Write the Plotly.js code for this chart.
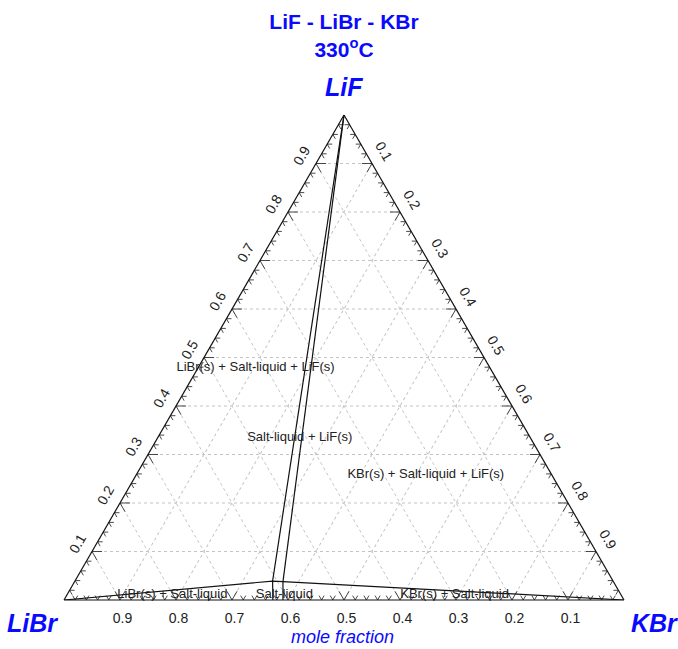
<!DOCTYPE html>
<html>
<head>
<meta charset="utf-8">
<script src="https://cdn.plot.ly/plotly-3.0.1.min.js"></script>
<style>
html,body{margin:0;padding:0;background:#ffffff;}
#chart{width:678px;height:649px;}
</style>
</head>
<body>
<div id="chart"></div>
<script>
// ---- components (a = LiF, b = LiBr, c = KBr) ----
const componentA = 'LiF';
const componentB = 'LiBr';
const componentC = 'KBr';
const titleLine1 = 'LiF - LiBr - KBr';
const titleLine2 = '330<sup>o</sup>C';
const axisNote = 'mole fraction';

// axis tick values / labels
const tickValues = [0.1, 0.2, 0.3, 0.4, 0.5, 0.6, 0.7, 0.8, 0.9];
const tickLabels = ['0.1', '0.2', '0.3', '0.4', '0.5', '0.6', '0.7', '0.8', '0.9'];
const minorStep = 0.02;

// ---- phase boundaries (mole fractions) ----
// tie line LiF -> liquid corner L1
const tieLeftA = [1.000, 0.039];
const tieLeftB = [0.000, 0.608];
const tieLeftC = [0.000, 0.353];
// tie line LiF -> liquid corner L2
const tieRightA = [1.000, 0.038];
const tieRightB = [0.000, 0.590];
const tieRightC = [0.000, 0.372];
// LiBr -> L1 -> L2 -> KBr boundary (three-phase triangle edges + LiF liquidus)
const domeA = [0.000, 0.039, 0.038, 0.000];
const domeB = [1.000, 0.608, 0.590, 0.000];
const domeC = [0.000, 0.353, 0.372, 1.000];
// liquid region borders down to the LiBr-KBr binary edge
const liqLeftA = [0.039, 0.000];
const liqLeftB = [0.608, 0.627];
const liqLeftC = [0.353, 0.373];
const liqRightA = [0.038, 0.000];
const liqRightB = [0.590, 0.609];
const liqRightC = [0.372, 0.391];

// ---- phase-region labels ----
const regionLabels = [
  'LiBr(s) + Salt-liquid + LiF(s)',
  'Salt-liquid + LiF(s)',
  'KBr(s) + Salt-liquid + LiF(s)',
  'LiBr(s) + Salt-liquid',
  'Salt-liquid',
  'KBr(s) + Salt-liquid'
];
const regionA = [0.478, 0.334, 0.258, 0.011, 0.011, 0.011];
const regionB = [0.419, 0.412, 0.225, 0.801, 0.601, 0.297];
const regionC = [0.103, 0.254, 0.517, 0.188, 0.388, 0.692];

// ---- edge tick marks (small "v" marks along each edge) ----
function buildTicks() {
  const A = [], B = [], C = [];
  const n = Math.round(1 / minorStep);
  for (let i = 1; i < n; i++) {
    const v = i * minorStep;
    const major = (i % 5 === 0);
    const d = major ? 0.018 : 0.009;
    // left edge (c = 0)
    A.push(v, v, v - d, null);
    B.push(1 - v - d, 1 - v, 1 - v, null);
    C.push(d, 0, d, null);
    // bottom edge (a = 0)
    A.push(d, 0, d, null);
    B.push(v, v, v - d, null);
    C.push(1 - v - d, 1 - v, 1 - v, null);
    // right edge (b = 0)
    A.push(v, v, v - d, null);
    B.push(d, 0, d, null);
    C.push(1 - v - d, 1 - v, 1 - v, null);
  }
  return {A, B, C};
}
const ticks = buildTicks();

const FONT = 'Liberation Sans, Arial, Helvetica, sans-serif';
const BLUE = '#0a0aff';
const lineStyle = {color: '#111111', width: 1.2};

function seg(a, b, c, name) {
  return {type: 'scatterternary', mode: 'lines', a: a, b: b, c: c, name: name,
          line: lineStyle, hoverinfo: 'skip', showlegend: false, cliponaxis: false};
}

const traces = [
  {type: 'scatterternary', mode: 'lines', a: ticks.A, b: ticks.B, c: ticks.C,
   line: {color: '#333333', width: 0.9}, hoverinfo: 'skip', showlegend: false,
   connectgaps: false, cliponaxis: false},
  seg(tieLeftA, tieLeftB, tieLeftC, 'tie L1'),
  seg(tieRightA, tieRightB, tieRightC, 'tie L2'),
  seg(domeA, domeB, domeC, 'boundary'),
  seg(liqLeftA, liqLeftB, liqLeftC, 'liquid left'),
  seg(liqRightA, liqRightB, liqRightC, 'liquid right'),
  {type: 'scatterternary', mode: 'text', a: regionA, b: regionB, c: regionC,
   text: regionLabels, textposition: 'middle center',
   textfont: {family: FONT, size: 13, color: '#222222'},
   hoverinfo: 'skip', showlegend: false, cliponaxis: false}
];

function axis(angle) {
  return {
    title: {text: ''},
    min: 0,
    tickmode: 'array', tickvals: tickValues, ticktext: tickLabels,
    ticks: 'outside', ticklen: 5, tickcolor: 'rgba(0,0,0,0)',
    tickangle: angle,
    tickfont: {family: FONT, size: 14, color: '#222222'},
    showgrid: true, gridcolor: '#c4c4c4', gridwidth: 1, griddash: 'dot',
    showline: true, linecolor: '#111111', linewidth: 1.2
  };
}

const layout = {
  width: 678, height: 649,
  margin: {l: 64, r: 54, t: 115, b: 49, pad: 0},
  paper_bgcolor: '#ffffff',
  showlegend: false,
  title: {
    text: '<b>' + titleLine1 + '<br>' + titleLine2 + '</b>',
    font: {family: FONT, size: 21, color: BLUE},
    x: 0.5, xanchor: 'center', xref: 'paper',
    y: 0.955, yanchor: 'top', yref: 'container'
  },
  ternary: {
    sum: 1,
    bgcolor: '#ffffff',
    domain: {x: [0, 1], y: [0, 1]},
    aaxis: axis(-60),
    baxis: axis(0),
    caxis: axis(60)
  },
  annotations: [
    {text: '<b><i>' + componentA + '</i></b>', xref: 'paper', yref: 'paper', x: 0.5, y: 1.058,
     showarrow: false, xanchor: 'center', yanchor: 'middle', font: {family: FONT, size: 25, color: BLUE}},
    {text: '<b><i>' + componentB + '</i></b>', xref: 'paper', yref: 'paper', x: -0.056, y: -0.047,
     showarrow: false, xanchor: 'center', yanchor: 'middle', font: {family: FONT, size: 25, color: BLUE}},
    {text: '<b><i>' + componentC + '</i></b>', xref: 'paper', yref: 'paper', x: 1.054, y: -0.047,
     showarrow: false, xanchor: 'center', yanchor: 'middle', font: {family: FONT, size: 25, color: BLUE}},
    {text: '<i>' + axisNote + '</i>', xref: 'paper', yref: 'paper', x: 0.498, y: -0.076,
     showarrow: false, xanchor: 'center', yanchor: 'middle', font: {family: FONT, size: 18, color: BLUE}}
  ]
};

Plotly.newPlot('chart', traces, layout, {displayModeBar: false, responsive: false, staticPlot: true});
</script>
</body>
</html>
